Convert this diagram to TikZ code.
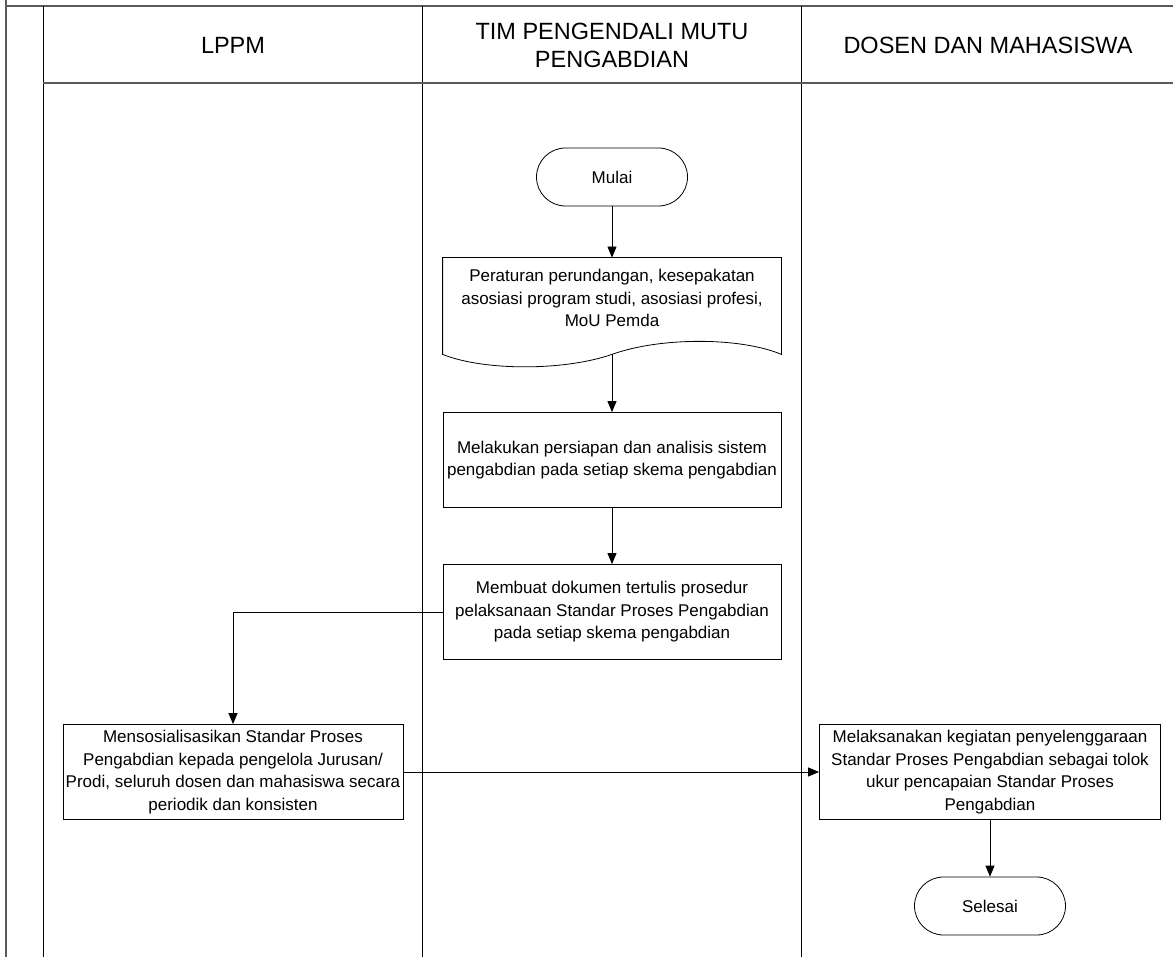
\documentclass[tikz,border=0pt]{standalone}
\usepackage{fontspec}
\setmainfont{Liberation Sans}
\usetikzlibrary{arrows.meta}
\definecolor{SPFrame}{HTML}{5A5A5A}

\tikzset{
  lanehead/.style={font=\fontsize{23.5}{28}\selectfont,align=center},
  procbox/.style={draw,line width=.8pt,align=center,minimum width=338pt,
    minimum height=95pt,inner sep=2pt,font=\fontsize{17}{22.5}\selectfont},
  termbox/.style={draw,line width=.8pt,rounded corners=29pt,minimum width=151pt,
    minimum height=58pt,font=\fontsize{17}{22.5}\selectfont},
  flow/.style={line width=.8pt,-{Triangle[length=11pt,width=9pt]}}
}

\begin{document}
\begin{tikzpicture}[x=1pt,y=-1pt]
\path[use as bounding box] (0,0) rectangle (1173,957);
% swimlane frame
\draw[SPFrame,line width=1.8pt] (6,0) -- (6,957);
\draw[SPFrame,line width=1.8pt] (6,6) -- (1173,6);
\draw[line width=.8pt] (43,6) -- (43,957);
\draw[line width=.8pt] (422,6) -- (422,957);
\draw[line width=.8pt] (801,6) -- (801,957);
\draw[SPFrame,line width=1.6pt] (43,83) -- (1173,83);
\node[lanehead] (lppm) at (233,45) {LPPM};
\node[lanehead] (tim) at (612,45) {TIM PENGENDALI MUTU\\PENGABDIAN};
\node[lanehead] (dosen) at (988,45) {DOSEN DAN MAHASISWA};
% flow
\node[termbox] (mulai) at (612,177) {Mulai};
\node[procbox,draw=none,minimum height=96pt] (atur) at (612,306)
  {Peraturan perundangan, kesepakatan\\asosiasi program studi, asosiasi profesi,\\MoU Pemda\\[-6.5pt]};
\draw[line width=.8pt] (atur.south west) -- (atur.north west) -- (atur.north east) -- (atur.south east)
  .. controls (740,337) and (660,337) .. (atur.south)
  .. controls (564,371) and (484,371) .. (atur.south west) -- cycle;
\node[procbox] (siap) at (612,460)
  {Melakukan persiapan dan analisis sistem\\pengabdian pada setiap skema pengabdian};
\node[procbox] (dok) at (612,612)
  {Membuat dokumen tertulis prosedur\\pelaksanaan Standar Proses Pengabdian\\pada setiap skema pengabdian};
\node[procbox,minimum width=340pt] (sosial) at (233,772)
  {Mensosialisasikan Standar Proses\\Pengabdian kepada pengelola Jurusan/\\Prodi, seluruh dosen dan mahasiswa secara\\periodik dan konsisten};
\node[procbox,minimum width=341pt] (laksana) at (990,772)
  {Melaksanakan kegiatan penyelenggaraan\\Standar Proses Pengabdian sebagai tolok\\ukur pencapaian Standar Proses\\Pengabdian};
\node[termbox] (selesai) at (990,906) {Selesai};
\draw[flow] (mulai) -- (atur);
\draw[flow] (atur.south) -- (siap);
\draw[flow] (siap) -- (dok);
\draw[flow] (dok.west) -| (sosial.north);
\draw[flow] (sosial) -- (laksana);
\draw[flow] (laksana) -- (selesai);
\end{tikzpicture}
\end{document}
